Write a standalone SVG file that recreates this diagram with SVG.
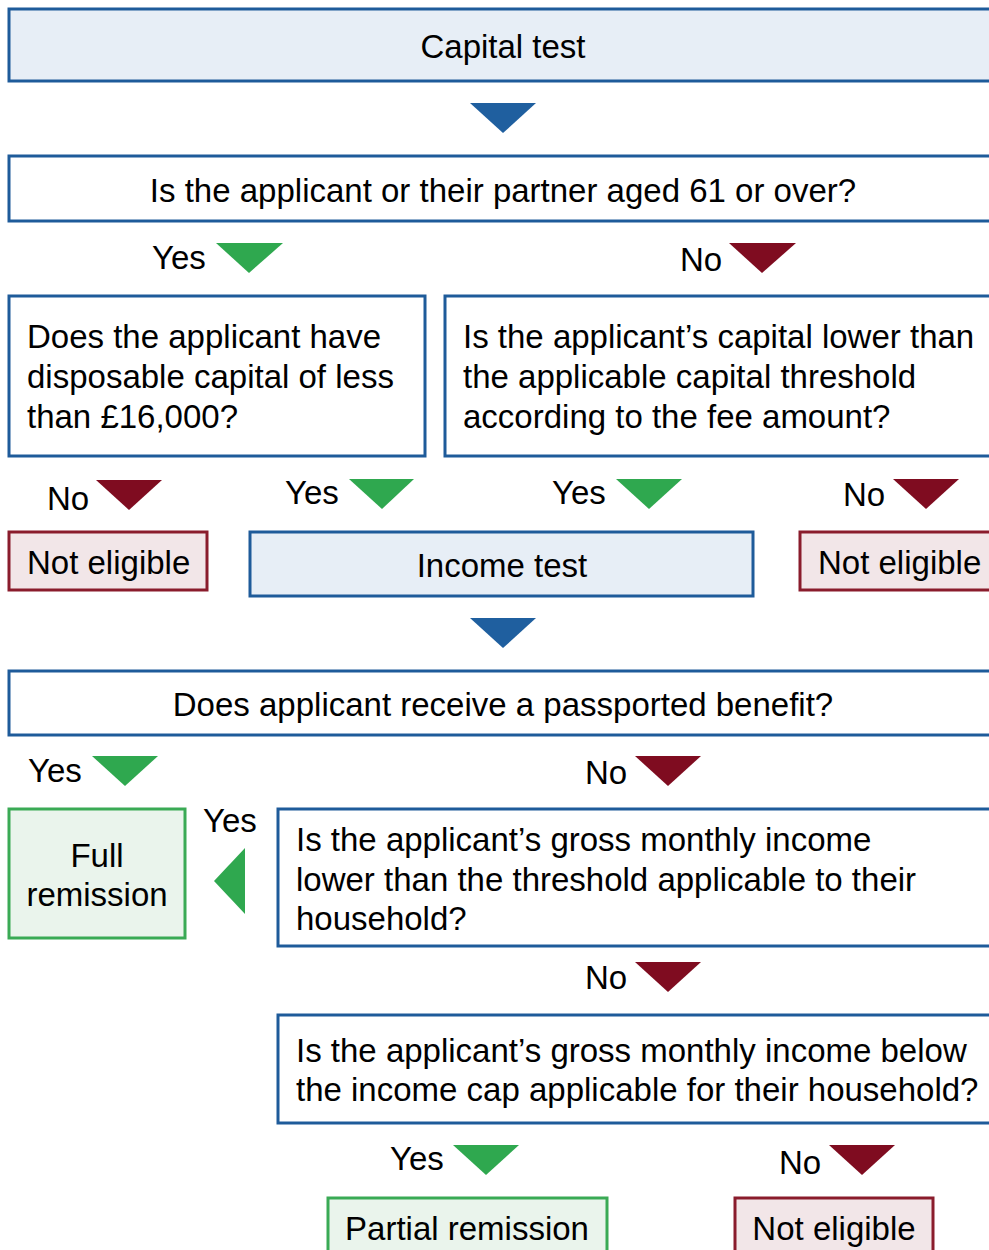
<svg xmlns="http://www.w3.org/2000/svg" width="989" height="1250" viewBox="0 0 989 1250">
<style>
text{font-family:"Liberation Sans",Arial,sans-serif;font-size:33px;fill:#000}
.c{text-anchor:middle}
.bl{fill:#e7eef6;stroke:#1e5b9a;stroke-width:3}
.q{fill:#fff;stroke:#1e5b9a;stroke-width:3}
.rd{fill:#f2e6e8;stroke:#8a1c2c;stroke-width:3}
.gr{fill:#eaf4ec;stroke:#3aaa55;stroke-width:3}
.tb{fill:#1f5f9f}
.tg{fill:#2fa84f}
.tr{fill:#7f0c20}
</style>
<g id="capital-test"><rect class="bl" x="9" y="9" width="995" height="72"/><text class="c" x="503" y="58">Capital test</text></g>
<g id="q-age"><rect class="q" x="9" y="156" width="995" height="65"/><text class="c" x="503" y="202">Is the applicant or their partner aged 61 or over?</text></g>
<g id="q-disposable"><rect class="q" x="9" y="296" width="416" height="160"/>
<text x="27" y="348">Does the applicant have</text><text x="27" y="388">disposable capital of less</text><text x="27" y="428">than £16,000?</text></g>
<g id="q-threshold"><rect class="q" x="445" y="296" width="560" height="160"/>
<text x="463" y="348">Is the applicant’s capital lower than</text><text x="463" y="388">the applicable capital threshold</text><text x="463" y="428">according to the fee amount?</text></g>
<g id="not-eligible-1"><rect class="rd" x="9" y="532" width="198" height="58"/><text x="27" y="574">Not eligible</text></g>
<g id="income-test"><rect class="bl" x="250" y="532" width="503" height="64"/><text class="c" x="502" y="577">Income test</text></g>
<g id="not-eligible-2"><rect class="rd" x="800" y="532" width="205" height="58"/><text x="818" y="574">Not eligible</text></g>
<g id="q-passported"><rect class="q" x="9" y="671" width="995" height="64"/><text class="c" x="503" y="716">Does applicant receive a passported benefit?</text></g>
<g id="full-remission"><rect class="gr" x="9" y="809" width="176" height="129"/><text class="c" x="97" y="867">Full</text><text class="c" x="97" y="906">remission</text></g>
<g id="q-gross"><rect class="q" x="278" y="809" width="727" height="137"/>
<text x="296" y="851">Is the applicant’s gross monthly income</text><text x="296" y="891">lower than the threshold applicable to their</text><text x="296" y="930">household?</text></g>
<g id="q-cap"><rect class="q" x="278" y="1015" width="727" height="108"/>
<text x="296" y="1062">Is the applicant’s gross monthly income below</text><text x="296" y="1101">the income cap applicable for their household?</text></g>
<g id="partial-remission"><rect class="gr" x="328" y="1198" width="279" height="70"/><text class="c" x="467" y="1240">Partial remission</text></g>
<g id="not-eligible-3"><rect class="rd" x="735" y="1198" width="198" height="70"/><text class="c" x="834" y="1240">Not eligible</text></g>
<g id="connectors">
<polygon class="tb" points="470,103 536,103 503,133"/>
<text x="152" y="269">Yes</text><polygon class="tg" points="216,243 283,243 249,273"/>
<text x="680" y="271">No</text><polygon class="tr" points="729,243 796,243 762,273"/>
<text x="47" y="510">No</text><polygon class="tr" points="96,480 162,480 129,510"/>
<text x="285" y="504">Yes</text><polygon class="tg" points="349,479 414,479 382,509"/>
<text x="552" y="504">Yes</text><polygon class="tg" points="616,479 682,479 649,509"/>
<text x="843" y="506">No</text><polygon class="tr" points="893,479 959,479 926,509"/>
<polygon class="tb" points="470,618 536,618 503,648"/>
<text x="28" y="782">Yes</text><polygon class="tg" points="92,756 158,756 125,786"/>
<text x="585" y="784">No</text><polygon class="tr" points="635,756 701,756 668,786"/>
<text x="203" y="832">Yes</text><polygon class="tg" points="214,881 245,848 245,914"/>
<text x="585" y="989">No</text><polygon class="tr" points="635,962 701,962 668,992"/>
<text x="390" y="1170">Yes</text><polygon class="tg" points="453,1145 519,1145 486,1175"/>
<text x="779" y="1174">No</text><polygon class="tr" points="829,1145 895,1145 862,1175"/>
</g>
</svg>
